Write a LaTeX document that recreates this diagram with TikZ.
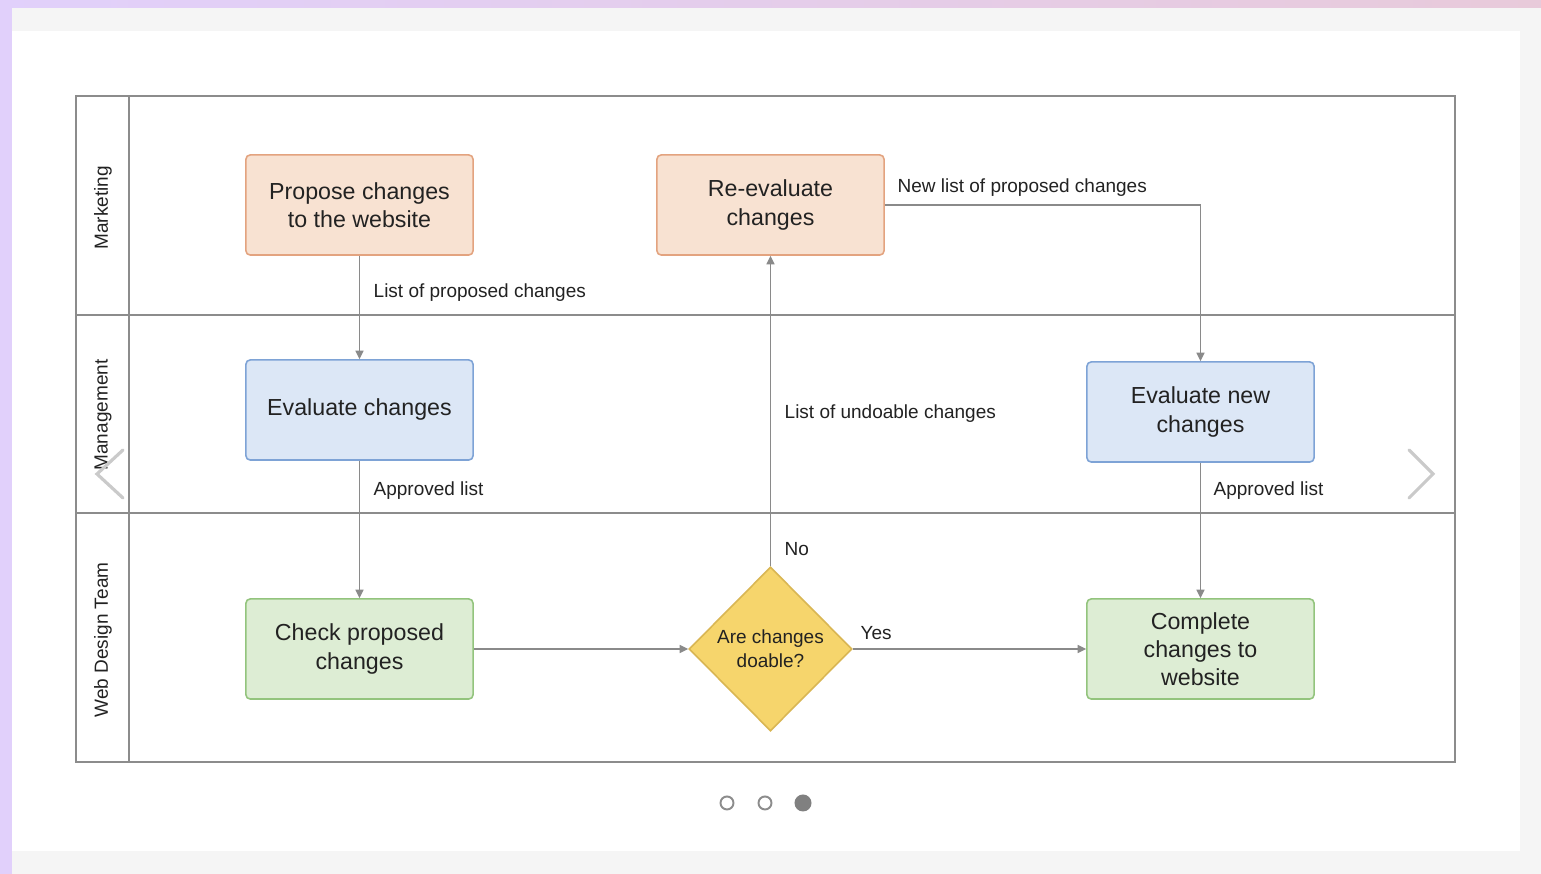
\documentclass[tikz,border=0pt]{standalone}
\usepackage{fontspec}
\setmainfont{Liberation Sans}
\usetikzlibrary{arrows.meta,shapes.geometric}

\definecolor{lav}{HTML}{E1D0FB}
\definecolor{pinklav}{HTML}{E8CADA}
\definecolor{panel}{HTML}{F5F5F5}
\definecolor{lanegray}{HTML}{8C8C8C}
\definecolor{linegray}{HTML}{8A8A8A}
\definecolor{peachfill}{HTML}{F8E2D2}
\definecolor{peachdraw}{HTML}{E3A37F}
\definecolor{bluefill}{HTML}{DCE7F6}
\definecolor{bluedraw}{HTML}{7EA3D6}
\definecolor{greenfill}{HTML}{DDEDD4}
\definecolor{greendraw}{HTML}{93C47D}
\definecolor{yellowfill}{HTML}{F6D56C}
\definecolor{yellowdraw}{HTML}{D9B653}
\definecolor{navgray}{HTML}{CACACA}
\definecolor{txt}{HTML}{222222}

\tikzset{
  task/.style={draw, rounded corners=1.2pt, line width=0.45pt, minimum width=2.27cm,
    minimum height=1cm, align=center, inner sep=0, text=txt,
    font=\fontsize{6.6}{8}\selectfont},
  flow/.style={draw=linegray, line width=0.4pt, -{Triangle[length=0.85mm,width=0.8mm]}},
  lbl/.style={anchor=west, inner sep=0, text=txt, font=\fontsize{5.4}{6.8}\selectfont},
  lane/.style={rotate=90, inner sep=0, text=txt, font=\fontsize{5.4}{6.8}\selectfont}
}

\begin{document}
\begin{tikzpicture}[x=0.01cm,y=-0.01cm]
  \useasboundingbox (0,0) rectangle (1541,874);
  \fill[lav] (0,0) rectangle (1541,874);
  \shade[left color=lav,right color=pinklav] (0,0) rectangle (1541,8);
  \fill[panel] (12,8) rectangle (1541,874);
  \fill[white] (12,31) rectangle (1520,851);

  \draw[lanegray, line width=0.6pt] (76,96) rectangle (1455,762);
  \draw[lanegray, line width=0.6pt] (129,96) -- (129,762);
  \draw[lanegray, line width=0.6pt] (76,315) -- (1455,315);
  \draw[lanegray, line width=0.6pt] (76,513) -- (1455,513);

  \node[lane] (mkt) at (103,208) {Marketing};
  \node[lane] (mgmt) at (103,415) {Management};
  \node[lane] (web) at (103,640) {Web Design Team};

  \node[task, fill=peachfill, draw=peachdraw] (propose) at (359.5,205) {Propose changes\\to the website};
  \node[task, fill=peachfill, draw=peachdraw] (reeval) at (770.5,205) {Re-evaluate\\changes};
  \node[task, fill=bluefill, draw=bluedraw] (evalch) at (359.5,410) {Evaluate changes};
  \node[task, fill=bluefill, draw=bluedraw] (evalnew) at (1200.5,412) {Evaluate new\\changes};
  \node[task, fill=greenfill, draw=greendraw] (check) at (359.5,649) {Check proposed\\changes};
  \node[task, fill=greenfill, draw=greendraw] (complete) at (1200.5,649) {Complete\\changes to\\website};
  \node[diamond, fill=yellowfill, draw=yellowdraw, line width=0.45pt, minimum width=1.63cm,
    minimum height=1.64cm, inner sep=0, align=center, text=txt,
    font=\fontsize{5.4}{6.8}\selectfont] (doable) at (770.5,649) {Are changes\\doable?};

  \draw[flow] (propose) -- (evalch);
  \draw[flow] (evalch) -- (check);
  \draw[flow] (check) -- (doable);
  \draw[flow] (doable) -- (reeval);
  \draw[flow] (reeval) -| (evalnew);
  \draw[flow] (doable) -- (complete);
  \draw[flow] (evalnew) -- (complete);

  \node[lbl] (l1) at (373,293) {List of proposed changes};
  \node[lbl] (l2) at (373,491) {Approved list};
  \node[lbl] (l3) at (784,414) {List of undoable changes};
  \node[lbl] (l4) at (784,549) {No};
  \node[lbl] (l5) at (897,188) {New list of proposed changes};
  \node[lbl] (l6) at (860,633) {Yes};
  \node[lbl] (l7) at (1213,491) {Approved list};

  \draw[navgray, line width=0.9pt, line cap=round] (123,450) -- (97,474) -- (123,498);
  \draw[navgray, line width=0.9pt, line cap=round] (1409,450) -- (1433,474) -- (1409,498);

  \draw[black!45, line width=0.55pt] (727,803) circle (0.065cm);
  \draw[black!45, line width=0.55pt] (765,803) circle (0.065cm);
  \fill[black!50] (803,803) circle (0.085cm);
\end{tikzpicture}
\end{document}
